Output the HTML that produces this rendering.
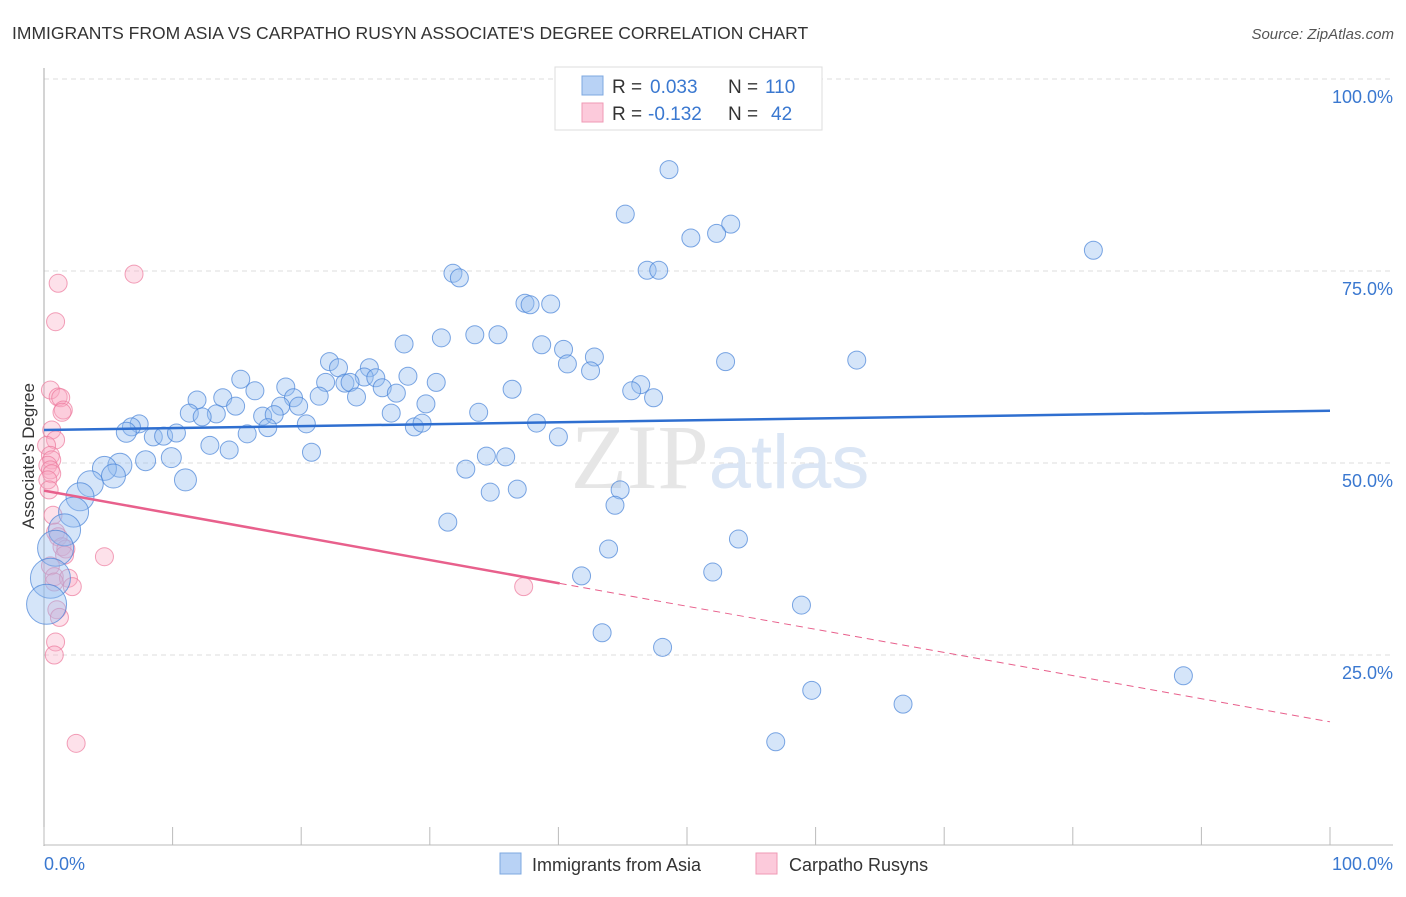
<!DOCTYPE html>
<html><head><meta charset="utf-8"><style>
body{margin:0;background:#fff;font-family:"Liberation Sans",sans-serif}
</style></head><body>
<svg id="chart" width="1406" height="892" xmlns="http://www.w3.org/2000/svg" style="font-family:'Liberation Sans',sans-serif">
<text x="12" y="39" font-size="17.5" fill="#333">IMMIGRANTS FROM ASIA VS CARPATHO RUSYN ASSOCIATE'S DEGREE CORRELATION CHART</text>
<text x="1394" y="39" font-size="15" fill="#555" text-anchor="end" font-style="italic">Source: ZipAtlas.com</text>
<g id="grid"></g>
<text x="720" y="488" font-size="92" text-anchor="middle" fill="#e6e6e6" font-family="Liberation Serif, serif">ZIP<tspan fill="#dbe6f5" font-family="Liberation Sans, sans-serif" font-size="76">atlas</tspan></text>
<g id="pts"></g>
<g id="trend"></g>
<text transform="translate(34,456) rotate(-90)" font-size="17" fill="#333" text-anchor="middle">Associate's Degree</text>
<g>
<rect x="555" y="67" width="267" height="63" fill="#fff" stroke="#ddd"/>
<rect x="582" y="76" width="21" height="19" fill="#b8d2f5" stroke="#7ea8e0"/>
<rect x="582" y="103" width="21" height="19" fill="#fccadb" stroke="#ef9ab5"/>
<text x="612" y="93" font-size="19" fill="#333">R = <tspan fill="#3a78d0" x="650">0.033</tspan><tspan x="728">N = </tspan><tspan fill="#3a78d0" x="765">110</tspan></text>
<text x="612" y="120" font-size="19" fill="#333">R = <tspan fill="#3a78d0" x="648">-0.132</tspan><tspan x="728">N = </tspan><tspan fill="#3a78d0" x="771">42</tspan></text>
</g>
<g>
<rect x="500" y="853" width="21" height="21" fill="#b8d2f5" stroke="#7ea8e0"/>
<text x="532" y="871" font-size="18" fill="#333">Immigrants from Asia</text>
<rect x="756" y="853" width="21" height="21" fill="#fccadb" stroke="#ef9ab5"/>
<text x="789" y="871" font-size="18" fill="#333">Carpatho Rusyns</text>
</g>
</svg>
<script>
const yTicks=[25,50,75,100];
const yTickLabels=["25.0%","50.0%","75.0%","100.0%"];
const xTickLabels=["0.0%","100.0%"];
const blueX=[48.6,45.2,53.4,52.3,50.3,81.6,31.8,32.3,46.9,47.8,37.4,37.8,39.4,33.5,35.3,30.9,28.0,38.7,40.4,42.8,40.7,42.5,53.0,63.2,22.2,22.9,25.3,24.9,25.8,28.3,30.5,21.9,23.4,23.8,26.3,24.3,27.4,36.4,46.4,45.7,47.4,15.3,18.8,16.4,19.4,21.4,11.9,13.9,19.8,14.9,18.4,29.7,27.0,33.8,11.3,13.4,12.3,17.0,17.9,20.4,28.8,29.4,38.3,17.4,15.8,40.0,7.4,6.8,6.4,8.5,9.3,10.3,12.9,14.4,20.8,9.9,7.9,34.4,35.9,32.8,11.0,5.9,4.7,5.4,3.6,2.8,2.3,1.6,0.9,0.5,0.2,34.7,36.8,44.8,44.4,31.4,54.0,43.9,52.0,41.8,58.9,43.4,48.1,88.6,59.7,66.8,56.9];
const blueY=[88.2,82.4,81.1,79.9,79.3,77.7,74.7,74.1,75.1,75.1,70.8,70.6,70.7,66.7,66.7,66.3,65.5,65.4,64.8,63.8,62.9,62.0,63.2,63.4,63.2,62.4,62.4,61.2,61.1,61.3,60.5,60.5,60.4,60.5,59.8,58.6,59.1,59.6,60.2,59.4,58.5,60.9,59.9,59.4,58.5,58.7,58.2,58.5,57.4,57.4,57.4,57.7,56.5,56.6,56.5,56.4,56.0,56.1,56.3,55.1,54.7,55.2,55.2,54.6,53.8,53.4,55.1,54.7,54.0,53.4,53.5,53.9,52.3,51.7,51.4,50.7,50.3,50.9,50.8,49.2,47.8,49.7,49.3,48.3,47.3,45.6,43.6,41.3,38.9,35.0,31.6,46.2,46.6,46.5,44.5,42.3,40.1,38.8,35.8,35.3,31.5,27.9,26.0,22.3,20.4,18.6,13.7];
const blueSize=[9,9,9,9,9,9,9,9,9,9,9,9,9,9,9,9,9,9,9,9,9,9,9,9,9,9,9,9,9,9,9,9,9,9,9,9,9,9,9,9,9,9,9,9,9,9,9,9,9,9,9,9,9,9,9,9,9,9,9,9,9,9,9,9,9,9,9,9,10,9,9,9,9,9,9,10,10,9,9,9,11,12,12,12,13,14,15,16,18,20,20,9,9,9,9,9,9,9,9,9,9,9,9,9,9,9,9];
const pinkX=[1.1,7.0,0.9,0.5,1.1,1.3,1.5,1.4,0.6,0.9,0.2,0.5,0.6,0.3,0.5,0.6,0.3,0.4,0.7,0.9,1.1,1.4,1.7,1.6,4.7,0.5,0.8,1.9,2.2,0.8,1.0,1.2,0.9,0.8,2.5,37.3];
const pinkY=[73.4,74.6,68.4,59.5,58.6,58.5,56.9,56.6,54.3,53.0,52.3,51.0,50.4,49.7,49.1,48.6,47.8,46.5,43.2,41.0,40.4,39.1,38.8,38.0,37.8,36.6,35.2,35.0,33.9,34.5,30.9,29.9,26.7,25.0,13.5,33.9];
const blueTrend=[54.3,56.8];
const pinkTrend=[46.4,16.3];
const pinkSolidEnd=40.1;
const NS="http://www.w3.org/2000/svg";
const X=v=>44+v*12.86, Y=v=>847-v*7.68;
function mk(t,a,p){const e=document.createElementNS(NS,t);for(const k in a)e.setAttribute(k,a[k]);p.appendChild(e);return e;}
const grid=document.getElementById('grid');
yTicks.forEach((t,i)=>{
 const l=mk('line',{x1:44,x2:1393,y1:Y(t),y2:Y(t),stroke:'#ddd','stroke-dasharray':'5,4'},grid);
 
 
 const tx=mk('text',{x:1393,y:Y(t)+24,'font-size':18,fill:'#3a78d0','text-anchor':'end'},grid);
 tx.textContent=yTickLabels[i];
 
 
});
const ax=mk('line',{x1:44,x2:44,y1:68,y2:846,stroke:'#aaa'},grid);


const bx=mk('line',{x1:44,x2:1393,y1:845,y2:845,stroke:'#bbb'},grid);


for(let i=0;i<=10;i++){const t=mk('line',{x1:X(i*10),x2:X(i*10),y1:827,y2:845,stroke:'#bbb'},grid);
 
 }
[[0,'start'],[100,'end']].forEach((d,i)=>{const t=mk('text',{x:i?1393:44,y:870,'font-size':18,fill:'#3a78d0','text-anchor':d[1]},grid);t.textContent=xTickLabels[i];
 
 });
const pts=document.getElementById('pts');
pinkX.forEach((x,i)=>{const c=mk('circle',{cx:X(x),cy:Y(pinkY[i]),r:9,fill:'rgba(248,170,195,0.35)',stroke:'rgba(236,120,155,0.7)','stroke-width':1},pts);
 
 });
blueX.forEach((x,i)=>{const c=mk('circle',{cx:X(x),cy:Y(blueY[i]),r:blueSize[i],fill:'rgba(150,190,240,0.4)',stroke:'rgba(70,130,215,0.7)','stroke-width':1},pts);
 
 });
const tr=document.getElementById('trend');
const b=mk('line',{x1:X(0),y1:Y(blueTrend[0]),x2:X(100),y2:Y(blueTrend[1]),stroke:'#2f6fd0','stroke-width':2.5},tr);


const pe=pinkTrend[0]+(pinkTrend[1]-pinkTrend[0])*pinkSolidEnd/100;
const p1=mk('line',{x1:X(0),y1:Y(pinkTrend[0]),x2:X(pinkSolidEnd),y2:Y(pe),stroke:'#e8608c','stroke-width':2.5},tr);


const p2=mk('line',{x1:X(pinkSolidEnd),y1:Y(pe),x2:X(100),y2:Y(pinkTrend[1]),stroke:'#e8608c','stroke-width':1,'stroke-dasharray':'7,5'},tr);


</script>
</body></html>
